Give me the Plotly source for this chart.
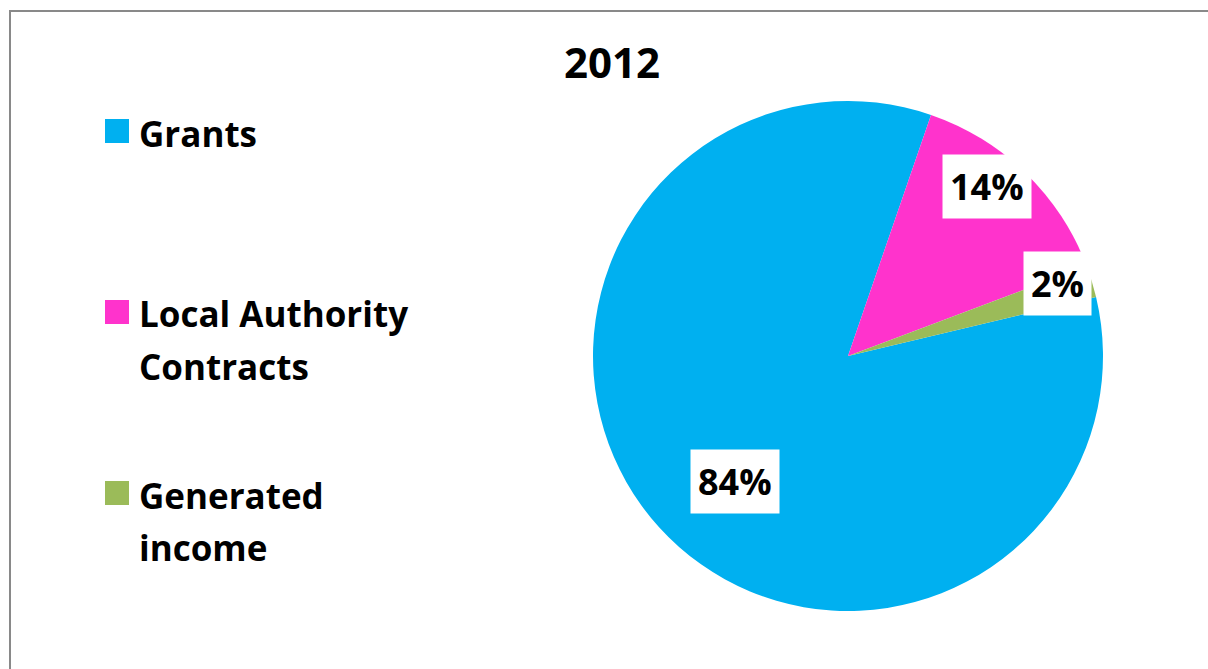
import math
import plotly.graph_objects as go

# ---- data ----
labels = ["Grants", "Local Authority Contracts", "Generated income"]
legend_lines = [["Grants"], ["Local Authority", "Contracts"], ["Generated", "income"]]
values = [84, 14, 2]
colors = ["#00B0F0", "#FF33CC", "#9BBB59"]
title_text = "2012"

# ---- layout parameters ----
W, H = 1208, 669
FONT = "Open Sans"
cx_px, cy_px, r_px = 848, 356, 255
rotation = 76.6
label_rfrac = [0.661, 0.86, 0.87]
label_shift = [-5.9, -4.8, -2.0]


def px_x(x):
    return x / W


def px_y(y):
    return 1 - y / H


fig = go.Figure(
    go.Pie(
        labels=labels,
        values=values,
        sort=False,
        direction="clockwise",
        rotation=rotation,
        marker=dict(colors=colors, line=dict(width=0)),
        textinfo="none",
        hoverinfo="label+percent",
        showlegend=False,
        domain=dict(
            x=[px_x(cx_px - r_px), px_x(cx_px + r_px)],
            y=[px_y(cy_px + r_px), px_y(cy_px - r_px)],
        ),
    )
)

annotations = []
shapes = []

# data labels (positions derived from slice angles)
total = sum(values)
cum = 0.0
for i, v in enumerate(values):
    pct = v / total
    mid = rotation + 360 * (cum + pct / 2) + label_shift[i]
    cum += pct
    a = math.radians(mid)
    lx = cx_px + label_rfrac[i] * r_px * math.sin(a)
    ly = cy_px - label_rfrac[i] * r_px * math.cos(a)
    annotations.append(dict(
        x=px_x(lx), y=px_y(ly), xref="paper", yref="paper",
        text=f"<b>{round(pct * 100)}%</b>", showarrow=False,
        font=dict(family=FONT, size=36, color="black"),
        bgcolor="white", borderpad=7, xanchor="center", yanchor="middle",
    ))

# custom legend
legend_top = [131, 312, 493]
line_pitch = 52
for i, lines in enumerate(legend_lines):
    yc = legend_top[i]
    shapes.append(dict(
        type="rect", xref="paper", yref="paper",
        x0=px_x(105), x1=px_x(129), y0=px_y(yc + 12), y1=px_y(yc - 12),
        fillcolor=colors[i], line=dict(width=0),
    ))
    for j, t in enumerate(lines):
        annotations.append(dict(
            x=px_x(137), y=px_y(yc + 2 + j * line_pitch), xref="paper", yref="paper",
            text=f"<b>{t}</b>", showarrow=False, xanchor="left", yanchor="middle",
            font=dict(family=FONT, size=35, color="black"),
        ))

# title
annotations.append(dict(
    x=px_x(612), y=px_y(61), xref="paper", yref="paper",
    text=f"<b>{title_text}</b>", showarrow=False, xanchor="center", yanchor="middle",
    font=dict(family=FONT, size=42, color="black"),
))

# chart border
shapes.append(dict(
    type="rect", xref="paper", yref="paper",
    x0=px_x(10), x1=1.2, y0=-0.2, y1=px_y(11),
    line=dict(color="#898989", width=2), fillcolor="rgba(0,0,0,0)", layer="above",
))

fig.update_layout(
    width=W, height=H,
    margin=dict(l=0, r=0, t=0, b=0),
    paper_bgcolor="white", plot_bgcolor="white",
    annotations=annotations, shapes=shapes,
    font=dict(family=FONT),
)

fig.write_html("out.html")
